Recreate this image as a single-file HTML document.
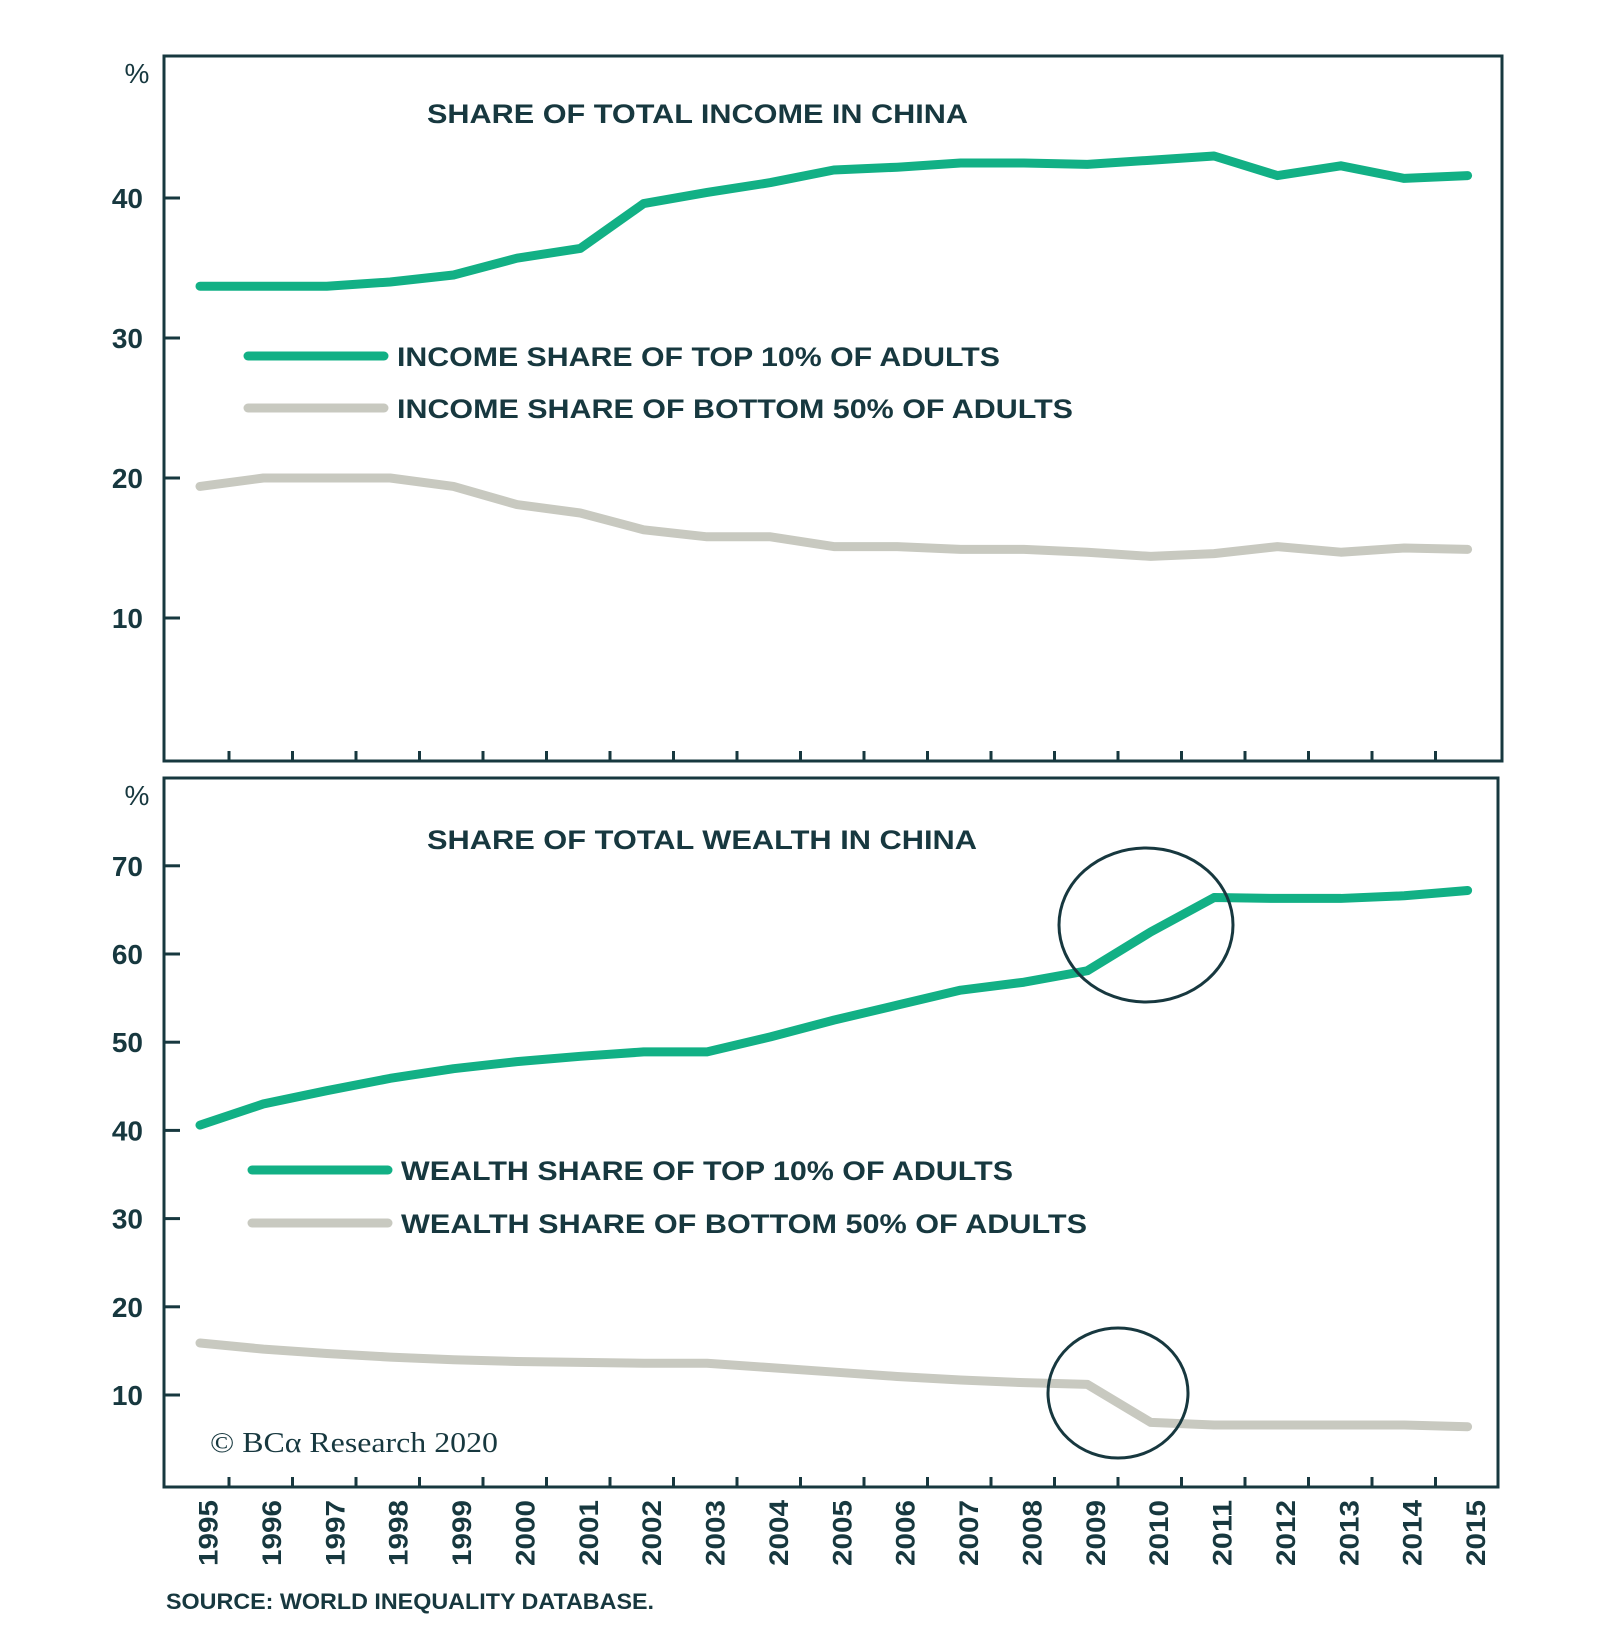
<!DOCTYPE html>
<html><head><meta charset="utf-8"><style>
body{margin:0;background:#fff;}
svg{display:block;font-family:"Liberation Sans",sans-serif;}
</style></head><body>
<svg id="chart" width="1600" height="1649" viewBox="0 0 1600 1649" xmlns="http://www.w3.org/2000/svg">
<rect width="1600" height="1649" fill="#fff"/>
<g id="g"></g>
</svg>
<script>
const years = [1995,1996,1997,1998,1999,2000,2001,2002,2003,2004,2005,2006,2007,2008,2009,2010,2011,2012,2013,2014,2015];
const incomeTop10 = [33.7,33.7,33.7,34.0,34.5,35.7,36.4,39.6,40.4,41.1,42.0,42.2,42.5,42.5,42.4,42.7,43.0,41.6,42.3,41.4,41.6];
const incomeBottom50 = [19.4,20.0,20.0,20.0,19.4,18.1,17.5,16.3,15.8,15.8,15.1,15.1,14.9,14.9,14.7,14.4,14.6,15.1,14.7,15.0,14.9];
const wealthTop10 = [40.6,43.0,44.5,45.9,47.0,47.8,48.4,48.9,48.9,50.6,52.5,54.2,55.9,56.8,58.1,62.5,66.4,66.3,66.3,66.6,67.2];
const wealthBottom50 = [15.9,15.2,14.7,14.3,14.0,13.8,13.7,13.6,13.6,13.1,12.6,12.1,11.7,11.4,11.2,6.9,6.6,6.6,6.6,6.6,6.4];
const incomeTicks = [10,20,30,40];
const wealthTicks = [10,20,30,40,50,60,70];

const NS='http://www.w3.org/2000/svg', G=document.getElementById('g');
const DARK='#17383f', GREEN='#12b085', GRAY='#c8c9c0';
function mk(tag,attrs,parent){const e=document.createElementNS(NS,tag);for(const k in attrs)e.setAttribute(k,attrs[k]);(parent||G).appendChild(e);return e;}
const x=i=>200+i*63.38;
const yInc=v=>758-v*14;
const yWea=v=>1395-(v-10)*8.82;

function panel(name,top,bottom,right,yf,ticks,title,titleY,titleW,leg,s1,s2){
  const g=mk('g',{});
  
  
  const r=mk('rect',{x:164,y:top,width:right-164,height:bottom-top,fill:'none',stroke:DARK,'stroke-width':3},g);
  
  
  const pc=mk('text',{x:137,y:top+27,'font-size':28,fill:DARK,'text-anchor':'middle'},g);pc.textContent='%';
  
  
  ticks.forEach(t=>{const yy=yf(t);
    const tl=mk('line',{x1:164,x2:180,y1:yy,y2:yy,stroke:DARK,'stroke-width':3},g);
    
    
    const tx=mk('text',{x:143,y:yy+10,'font-size':28,'font-weight':'bold',fill:DARK,'text-anchor':'end'},g);tx.textContent=t;
    
    });
  for(let i=0;i<years.length-1;i++){const xx=229+i*63.5;
    const tk=mk('line',{x1:xx,x2:xx,y1:bottom,y2:bottom-10,stroke:DARK,'stroke-width':3},g);
    
    }
  const ti=mk('text',{x:427,y:titleY,'font-size':27,'font-weight':'bold',fill:DARK,textLength:titleW,lengthAdjust:'spacingAndGlyphs'},g);ti.textContent=title;
  
  
  [[s1,GREEN],[s2,GRAY]].forEach(([s,c],k)=>{
    const p=mk('polyline',{points:s.map((v,i)=>x(i)+','+yf(v)).join(' '),fill:'none',stroke:c,'stroke-width':9,'stroke-linecap':'round','stroke-linejoin':'round'},g);
    
    
    const L=leg[k];
    const ll=mk('line',{x1:L.x1,x2:L.x1+136,y1:L.y,y2:L.y,stroke:c,'stroke-width':9,'stroke-linecap':'round'},g);
    
    
    const lt=mk('text',{x:L.x1+149,y:L.y+10,'font-size':27,'font-weight':'bold',fill:DARK,textLength:L.w,lengthAdjust:'spacingAndGlyphs'},g);lt.textContent=L.t;
    
    
  });
}
panel('income',56,761,1502,yInc,incomeTicks,'SHARE OF TOTAL INCOME IN CHINA',123,541,
  [{x1:248,y:356,w:603,t:'INCOME SHARE OF TOP 10% OF ADULTS'},{x1:248,y:408,w:676,t:'INCOME SHARE OF BOTTOM 50% OF ADULTS'}],incomeTop10,incomeBottom50);
panel('wealth',778,1487,1498,yWea,wealthTicks,'SHARE OF TOTAL WEALTH IN CHINA',849,550,
  [{x1:252,y:1170,w:612,t:'WEALTH SHARE OF TOP 10% OF ADULTS'},{x1:252,y:1223,w:686,t:'WEALTH SHARE OF BOTTOM 50% OF ADULTS'}],wealthTop10,wealthBottom50);

const c1=mk('ellipse',{cx:1146,cy:925,rx:87,ry:77,fill:'none',stroke:DARK,'stroke-width':3});


const c2=mk('ellipse',{cx:1118,cy:1393,rx:70,ry:65,fill:'none',stroke:DARK,'stroke-width':3});



years.forEach((yr,i)=>{const xx=x(i)+8.5;
  const t=mk('text',{x:0,y:0,transform:`translate(${xx+9},1533) rotate(-90)`,'font-size':27,'font-weight':'bold',fill:DARK,'text-anchor':'middle',textLength:66,lengthAdjust:'spacingAndGlyphs'});
  t.textContent=yr;
  
  });

const cp=mk('text',{x:210,y:1452,'font-size':28,fill:DARK,'font-family':'Liberation Serif,serif',textLength:288,lengthAdjust:'spacingAndGlyphs'});cp.textContent='© BCα Research 2020';


const src=mk('text',{x:166,y:1609,'font-size':22,'font-weight':'bold',fill:DARK,textLength:488,lengthAdjust:'spacingAndGlyphs'});src.textContent='SOURCE: WORLD INEQUALITY DATABASE.';


</script>
</body></html>
